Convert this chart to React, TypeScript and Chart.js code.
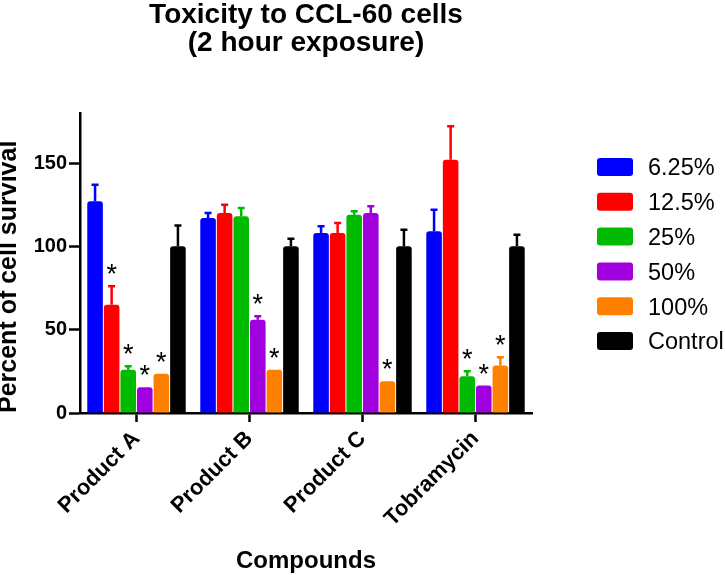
import React, { useEffect, useRef } from "react";
import { Chart, registerables } from "chart.js";

Chart.register(...registerables);

const FONT = "'Liberation Sans', Arial, Helvetica, sans-serif";

const categories = ["Product A", "Product B", "Product C", "Tobramycin"];
const seriesLabels = ["6.25%", "12.5%", "25%", "50%", "100%", "Control"];
const seriesColors = ["#0000FF", "#FF0000", "#00BB00", "#A000DD", "#FF8000", "#000000"];

const values625 = [127, 117, 108, 109];
const values125 = [65, 120, 108, 152];
const values25 = [26, 118, 119, 22];
const values50 = [15.5, 56, 120, 16.5];
const values100 = [23.5, 26, 19, 28.5];
const valuesControl = [100, 100, 100, 100];

const err625 = [10, 3, 4, 13];
const err125 = [11, 5, 6, 20];
const err25 = [2, 5, 2, 3];
const err50 = [0, 2, 4, 0];
const err100 = [0, 0, 0, 5];
const errControl = [12.5, 4.5, 10, 7];

const star625 = [false, false, false, false];
const star125 = [true, false, false, false];
const star25 = [true, false, false, true];
const star50 = [true, true, false, true];
const star100 = [true, true, true, true];
const starControl = [false, false, false, false];

const yTicks = [0, 50, 100, 150];

const allValues = [values625, values125, values25, values50, values100, valuesControl];
const allErrors = [err625, err125, err25, err50, err100, errControl];
const allStars = [star625, star125, star25, star50, star100, starControl];

const errorStarPlugin = {
  id: "errorStar",
  afterDatasetsDraw(chart: any) {
    const ctx = chart.ctx;
    const yScale = chart.scales.y;
    chart.data.datasets.forEach((ds: any, i: number) => {
      const meta = chart.getDatasetMeta(i);
      meta.data.forEach((bar: any, j: number) => {
        const v = ds.data[j];
        const e = ds.errors[j];
        const topVal = v + e;
        const yBar = yScale.getPixelForValue(v);
        const yTop = yScale.getPixelForValue(topVal);
        ctx.save();
        if (e > 0) {
          ctx.strokeStyle = ds.backgroundColor;
          ctx.lineWidth = 2.5;
          ctx.beginPath();
          ctx.moveTo(bar.x, yBar);
          ctx.lineTo(bar.x, yTop);
          ctx.moveTo(bar.x - 3.5, yTop);
          ctx.lineTo(bar.x + 3.5, yTop);
          ctx.stroke();
        }
        if (ds.stars[j]) {
          ctx.fillStyle = "#000";
          ctx.font = `27px ${FONT}`;
          ctx.textAlign = "center";
          ctx.textBaseline = "alphabetic";
          ctx.fillText("*", bar.x, yTop - 3);
        }
        ctx.restore();
      });
    });
  },
};

const legendPlugin = {
  id: "customLegend",
  afterDraw(chart: any) {
    const ctx = chart.ctx;
    const area = chart.chartArea;
    const x0 = area.right + 65;
    const y0 = area.top + 45;
    const rowH = 34.8;
    ctx.save();
    chart.data.datasets.forEach((ds: any, i: number) => {
      const y = y0 + i * rowH;
      ctx.fillStyle = ds.backgroundColor;
      ctx.beginPath();
      (ctx as any).roundRect(x0, y, 36, 18, 3);
      ctx.fill();
      ctx.fillStyle = "#000";
      ctx.font = `23.5px ${FONT}`;
      ctx.textAlign = "left";
      ctx.textBaseline = "middle";
      ctx.fillText(ds.label, x0 + 51, y + 11);
    });
    ctx.restore();
  },
};

export default function App() {
  const ref = useRef<HTMLCanvasElement>(null);

  useEffect(() => {
    if (!ref.current) return;
    const chart = new Chart(ref.current, {
      type: "bar",
      data: {
        labels: categories,
        datasets: seriesLabels.map((label, i) => ({
          label,
          data: allValues[i],
          errors: allErrors[i],
          stars: allStars[i],
          backgroundColor: seriesColors[i],
          borderWidth: 0,
          borderRadius: 3,
          borderSkipped: "start",
          categoryPercentage: 0.88,
          barPercentage: 0.94,
        })) as any,
      },
      options: {
        responsive: false,
        animation: false,
        layout: { padding: { left: 0, right: 193, top: 0, bottom: 0 } },
        plugins: {
          legend: { display: false },
          tooltip: { enabled: false },
          title: {
            display: true,
            text: ["Toxicity to CCL-60 cells", "(2 hour exposure)"],
            color: "#000",
            fullSize: false,
            font: { family: FONT, size: 28, weight: "bold", lineHeight: 1 },
            padding: { top: 1, bottom: 56 },
          },
        },
        scales: {
          x: {
            grid: {
              display: true,
              drawOnChartArea: false,
              drawTicks: true,
              tickLength: 9,
              tickWidth: 2.5,
              tickColor: "#000",
              offset: false,
            },
            border: { display: true, color: "#000", width: 2.5 },
            ticks: {
              color: "#000",
              minRotation: 45,
              maxRotation: 45,
              padding: 4,
              font: { family: FONT, size: 22, weight: "bold" },
            },
            title: {
              display: true,
              text: "Compounds",
              color: "#000",
              font: { family: FONT, size: 24, weight: "bold", lineHeight: 1.1 },
              padding: 0,
            },
            afterFit: (s: any) => {
              s.height = 162;
            },
          },
          y: {
            min: 0,
            max: 180,
            ticks: {
              stepSize: 50,
              color: "#000",
              padding: 2,
              font: { family: FONT, size: 20, weight: "bold" },
            },
            afterBuildTicks: (s: any) => {
              s.ticks = yTicks.map((v) => ({ value: v }));
            },
            grid: {
              drawOnChartArea: false,
              drawTicks: true,
              tickLength: 11,
              tickWidth: 2.5,
              tickColor: "#000",
            },
            border: { display: true, color: "#000", width: 2.5 },
            title: {
              display: true,
              text: "Percent of cell survival",
              align: "start",
              color: "#000",
              font: { family: FONT, size: 25, weight: "bold", lineHeight: 0.75 },
              padding: 0,
            },
            afterFit: (s: any) => {
              s.width = 80;
            },
          },
        },
      } as any,
      plugins: [errorStarPlugin, legendPlugin],
    });
    return () => chart.destroy();
  }, []);

  return (
    <div style={{ position: "fixed", left: 0, top: 0, width: 725, height: 575, background: "#fff" }}>
      <canvas ref={ref} width={725} height={575} style={{ display: "block" }} />
    </div>
  );
}
